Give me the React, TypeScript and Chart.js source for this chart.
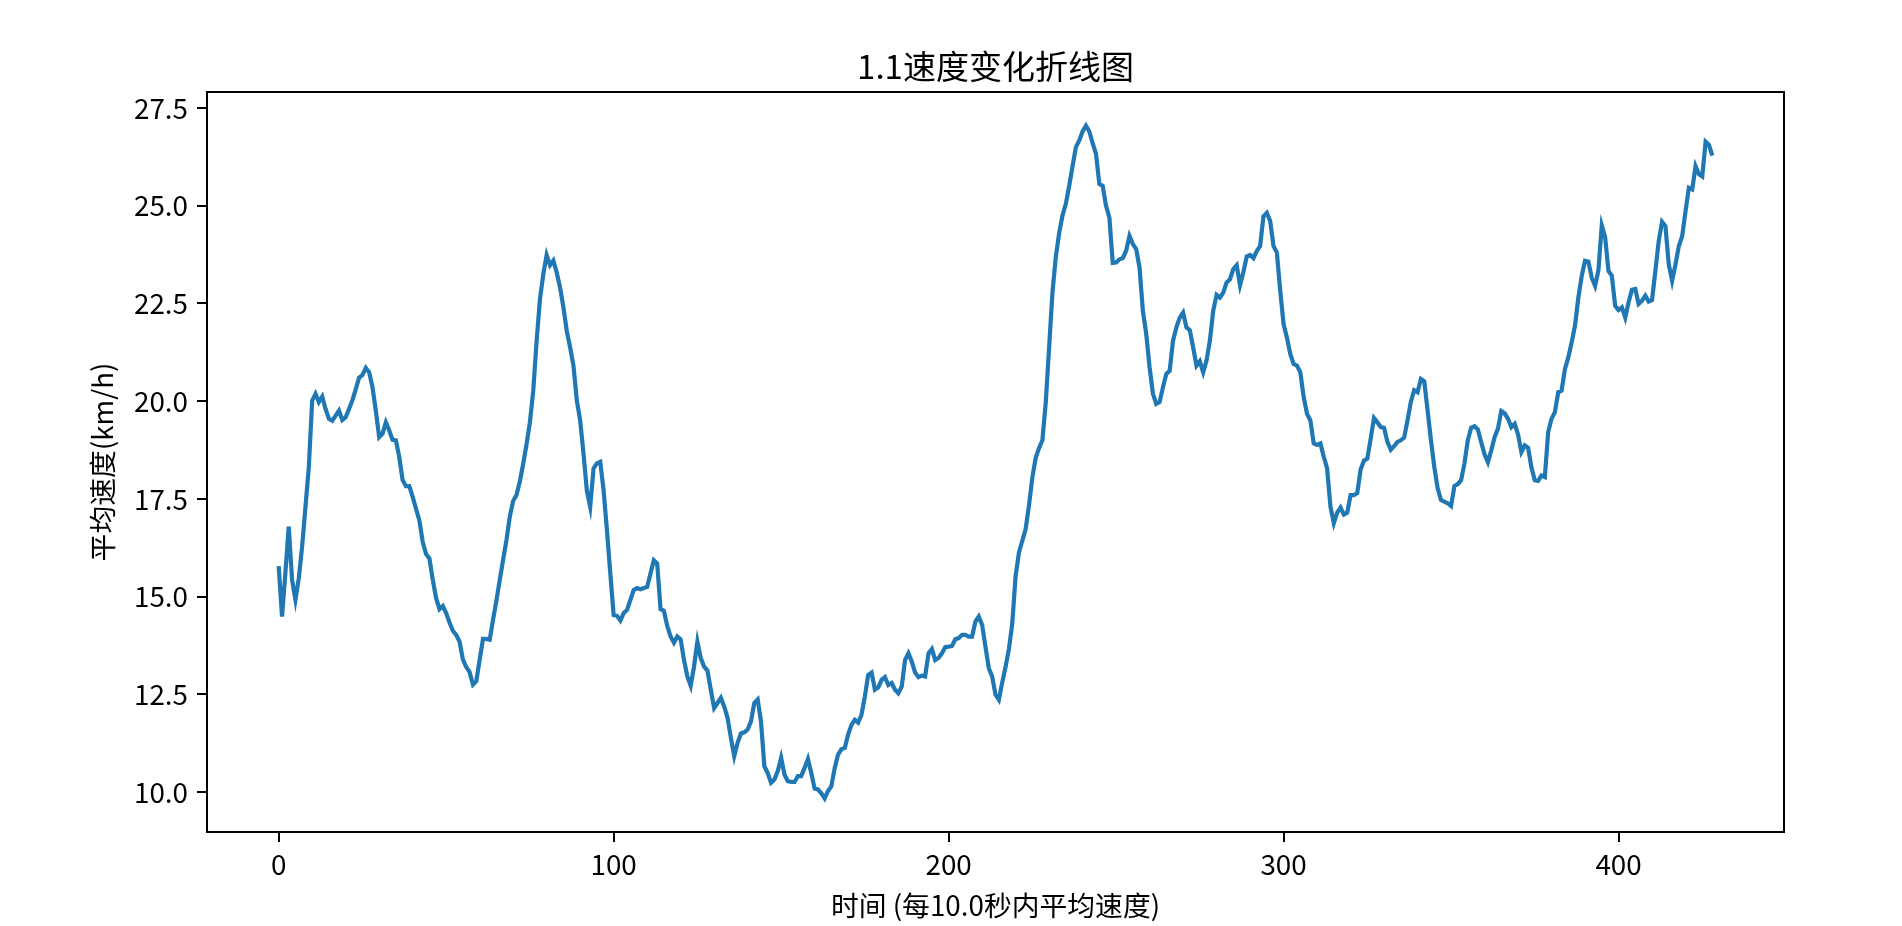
import React, { useEffect, useRef } from "react";
import { Chart, registerables } from "chart.js";

Chart.register(...registerables);

const chartTitle = "1.1速度变化折线图";
const xAxisTitle = "时间 (每10.0秒内平均速度)";
const yAxisTitle = "平均速度(km/h)";

const xTickValues = [0, 100, 200, 300, 400];
const yTickValues = [10.0, 12.5, 15.0, 17.5, 20.0, 22.5, 25.0, 27.5];

const speedsA = [
  15.78, 14.49, 15.6, 16.79, 15.43, 14.92, 15.47, 16.28, 17.3, 18.32,
  20.02, 20.19, 19.98, 20.12, 19.8, 19.55, 19.5, 19.63, 19.76, 19.52,
  19.59, 19.8, 20.02, 20.3, 20.6, 20.67, 20.85, 20.74, 20.36, 19.76,
  19.08, 19.17, 19.46, 19.25, 19.01, 19.0, 18.57, 17.98, 17.83, 17.83,
  17.55, 17.25, 16.95, 16.4, 16.09, 15.98, 15.43, 14.96, 14.68, 14.76,
  14.58, 14.34, 14.13, 14.02, 13.85, 13.39, 13.2, 13.07, 12.75, 12.84,
  13.39, 13.92, 13.92, 13.9, 14.41, 14.9, 15.43, 15.94, 16.45, 17.05,
  17.45, 17.6, 17.95, 18.4, 18.9, 19.46, 20.27, 21.54, 22.61, 23.25,
  23.74, 23.48, 23.6, 23.29, 22.91, 22.4, 21.8, 21.38, 20.91, 20.02,
  19.51, 18.66, 17.72, 17.3, 18.28, 18.41, 18.45, 17.72, 16.7, 15.6,
];
const speedsB = [
  14.53, 14.51, 14.39, 14.58, 14.66, 14.92, 15.17, 15.22, 15.19, 15.22,
  15.25, 15.59, 15.93, 15.85, 14.68, 14.64, 14.25, 13.98, 13.82, 13.98,
  13.91, 13.38, 12.96, 12.72, 13.21, 13.85, 13.43, 13.21, 13.11, 12.62,
  12.15, 12.28, 12.41, 12.19, 11.9, 11.39, 10.92, 11.26, 11.5, 11.53,
  11.6, 11.81, 12.28, 12.37, 11.8, 10.66, 10.49, 10.24, 10.32, 10.54,
  10.88, 10.45, 10.28, 10.26, 10.26, 10.41, 10.41, 10.62, 10.85, 10.49,
  10.09, 10.07, 9.97, 9.84, 10.03, 10.15, 10.62, 10.96, 11.1, 11.13,
  11.47, 11.72, 11.85, 11.78, 11.98, 12.45, 13.0, 13.06, 12.62, 12.68,
  12.87, 12.94, 12.74, 12.79, 12.62, 12.53, 12.7, 13.38, 13.55, 13.34,
  13.06, 12.94, 12.98, 12.96, 13.55, 13.66, 13.38, 13.43, 13.55, 13.71,
];
const speedsC = [
  13.72, 13.74, 13.91, 13.94, 14.02, 14.02, 13.98, 13.98, 14.36, 14.49,
  14.28, 13.72, 13.17, 12.96, 12.49, 12.36, 12.8, 13.2, 13.66, 14.31,
  15.52, 16.13, 16.43, 16.73, 17.34, 18.05, 18.55, 18.8, 19.0, 19.96,
  21.37, 22.78, 23.69, 24.3, 24.75, 25.05, 25.51, 26.01, 26.5, 26.67,
  26.9, 27.05, 26.9, 26.6, 26.33, 25.56, 25.51, 25.0, 24.7, 23.54,
  23.55, 23.63, 23.66, 23.85, 24.23, 24.02, 23.89, 23.42, 22.31, 21.72,
  20.87, 20.19, 19.93, 19.98, 20.36, 20.7, 20.78, 21.55, 21.89, 22.14,
  22.27, 21.89, 21.82, 21.38, 20.91, 21.02, 20.74, 21.04, 21.55, 22.31,
  22.72, 22.65, 22.78, 23.04, 23.12, 23.38, 23.48, 22.97, 23.3, 23.7,
  23.74, 23.66, 23.84, 23.97, 24.73, 24.82, 24.61, 23.97, 23.8, 22.83,
];
const speedsD = [
  21.97, 21.63, 21.21, 20.95, 20.91, 20.74, 20.11, 19.68, 19.51, 18.92,
  18.88, 18.92, 18.58, 18.28, 17.3, 16.88, 17.15, 17.28, 17.1, 17.15,
  17.6, 17.6, 17.65, 18.25, 18.48, 18.53, 19.04, 19.57, 19.46, 19.34,
  19.32, 18.96, 18.76, 18.85, 18.96, 19.0, 19.07, 19.51, 19.98, 20.28,
  20.23, 20.57, 20.51, 19.76, 19.0, 18.32, 17.77, 17.47, 17.43, 17.39,
  17.32, 17.83, 17.88, 17.98, 18.41, 19.0, 19.32, 19.36, 19.28, 18.95,
  18.64, 18.44, 18.74, 19.08, 19.3, 19.75, 19.69, 19.55, 19.34, 19.42,
  19.15, 18.7, 18.87, 18.81, 18.3, 17.98, 17.96, 18.1, 18.06, 19.21,
  19.55, 19.72, 20.23, 20.27, 20.82, 21.12, 21.5, 21.93, 22.65, 23.2,
  23.59, 23.57, 23.16, 22.95, 23.35, 24.5, 24.2, 23.33, 23.21, 22.44,
];
const speedsE = [
  22.33, 22.4, 22.14, 22.53, 22.85, 22.87, 22.49, 22.57, 22.7, 22.55,
  22.59, 23.33, 24.1, 24.59, 24.48, 23.5, 23.08, 23.5, 23.97, 24.22,
  24.86, 25.46, 25.42, 26.01, 25.81, 25.75, 26.64, 26.56, 26.28,
];

const speeds = [...speedsA, ...speedsB, ...speedsC, ...speedsD, ...speedsE];

const FONT = '"Noto Sans CJK SC", "Noto Sans", sans-serif';

export default function App() {
  const ref = useRef<HTMLCanvasElement | null>(null);

  useEffect(() => {
    const canvas = ref.current;
    if (!canvas) return;

    const n = speeds.length;
    const xMin = -0.05 * (n - 1);
    const xMax = (n - 1) * 1.05;
    const dMin = Math.min(...speeds);
    const dMax = Math.max(...speeds);
    const r = dMax - dMin;
    const yMin = dMin - 0.05 * r;
    const yMax = dMax + 0.05 * r;

    const textPlugin = {
      id: "textPlugin",
      afterDraw(chart: any) {
        const ctx = chart.ctx;
        const a = chart.chartArea;
        ctx.save();
        ctx.strokeStyle = "#000";
        ctx.lineWidth = 2;
        ctx.strokeRect(a.left, a.top, a.right - a.left, a.bottom - a.top);
        ctx.fillStyle = "#000";
        ctx.textAlign = "center";
        ctx.textBaseline = "bottom";
        ctx.font = `33px ${FONT}`;
        ctx.fillText(chartTitle, (a.left + a.right) / 2, a.top - 9);
        ctx.font = `27.8px ${FONT}`;
        ctx.textBaseline = "middle";
        ctx.fillText(xAxisTitle, (a.left + a.right) / 2, 905);
        ctx.translate(102, (a.top + a.bottom) / 2);
        ctx.rotate(-Math.PI / 2);
        ctx.fillText(yAxisTitle, 0, 0);
        ctx.restore();
      },
    };

    const tickFont = { family: FONT, size: 27.8 };

    const chart = new Chart(canvas, {
      type: "line",
      data: {
        datasets: [
          {
            data: speeds.map((v, i) => ({ x: i, y: v })),
            borderColor: "#1f77b4",
            borderWidth: 4.2,
            pointRadius: 0,
            tension: 0,
            fill: false,
          },
        ],
      },
      options: {
        animation: false,
        responsive: false,
        maintainAspectRatio: false,
        devicePixelRatio: 1,
        layout: { padding: { top: 92, right: 118, bottom: 0, left: 0 } },
        plugins: {
          legend: { display: false },
          title: { display: false },
          tooltip: { enabled: false },
        },
        scales: {
          x: {
            type: "linear",
            min: xMin,
            max: xMax,
            afterBuildTicks: (s: any) => {
              s.ticks = xTickValues.map((v) => ({ value: v }));
            },
            afterFit: (s: any) => {
              s.height = 94;
            },
            ticks: {
              font: tickFont,
              color: "#000",
              padding: 6,
              maxRotation: 0,
              autoSkip: false,
              callback: (v: any) => String(v),
            },
            grid: {
              drawOnChartArea: false,
              drawTicks: true,
              tickLength: 10,
              color: "#000",
              lineWidth: 2,
            },
            border: { display: true, color: "#000", width: 2 },
          },
          y: {
            type: "linear",
            min: yMin,
            max: yMax,
            afterBuildTicks: (s: any) => {
              s.ticks = yTickValues.map((v) => ({ value: v }));
            },
            afterFit: (s: any) => {
              s.width = 207;
            },
            ticks: {
              font: tickFont,
              color: "#000",
              padding: 9,
              autoSkip: false,
              callback: (v: any) => Number(v).toFixed(1),
            },
            grid: {
              drawOnChartArea: false,
              drawTicks: true,
              tickLength: 10,
              color: "#000",
              lineWidth: 2,
            },
            border: { display: true, color: "#000", width: 2 },
          },
        },
      },
      plugins: [textPlugin],
    } as any);

    return () => chart.destroy();
  }, []);

  return (
    <div style={{ position: "absolute", left: 0, top: 0, width: 1902, height: 926, background: "#fff" }}>
      <canvas ref={ref} width={1902} height={926} style={{ width: 1902, height: 926, display: "block" }} />
    </div>
  );
}
